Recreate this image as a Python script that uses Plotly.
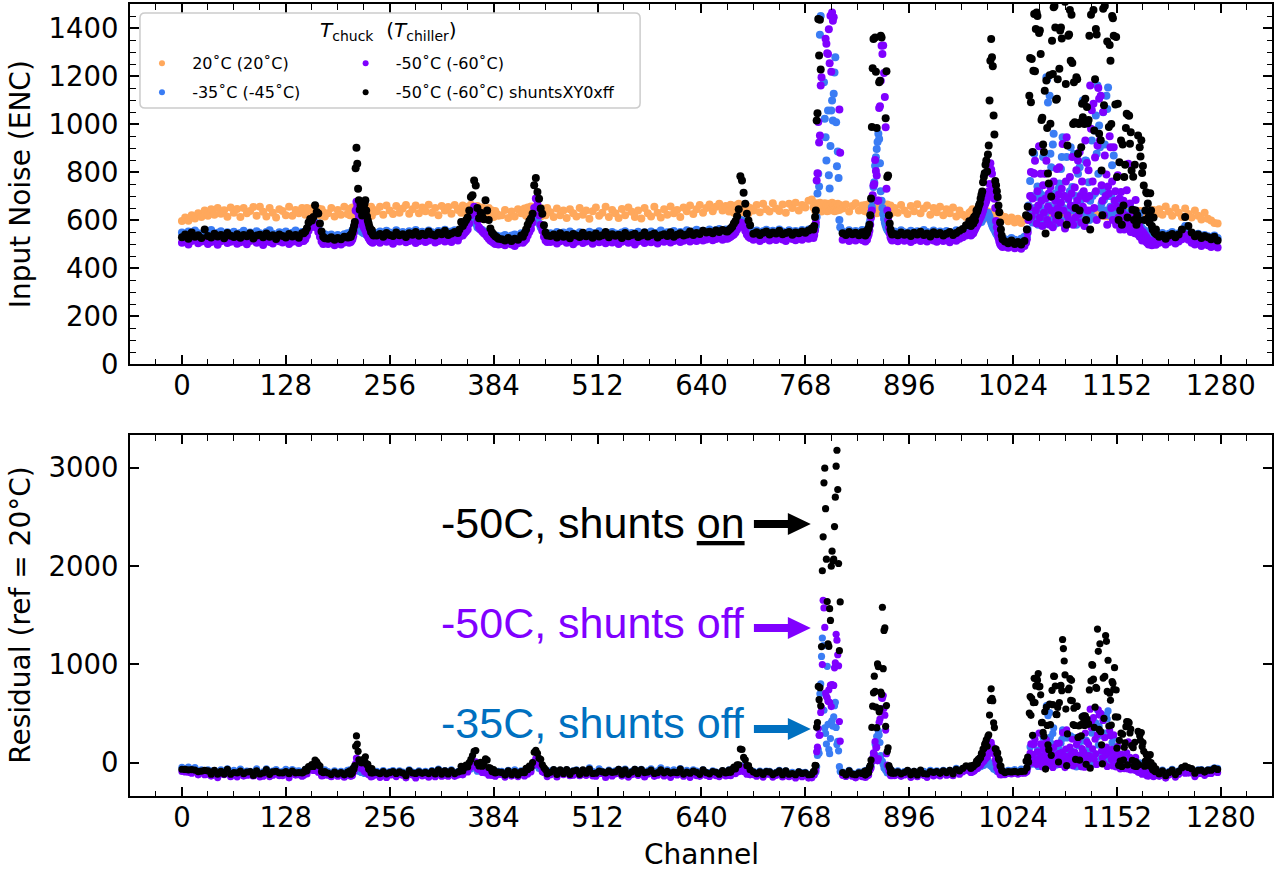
import plotly.graph_objects as go

# ------------------------------------------------------------------
# DATA  (input noise in ENC)
# each region: first channel, channel step, then one list per series
# series order: 20C ref, -35C, -50C, -50C shunts
# ------------------------------------------------------------------
r01_ref = [596, 610, 597, 620, 606, 628, 612, 640, 618, 645, 622, 650, 626, 641, 614, 652, 630, 646, 612, 650,
           628, 638, 654, 618, 655, 634, 615, 650, 630, 610, 645, 638, 620, 655, 618, 642, 628, 650]
r01_m35 = [548, 538, 552, 541, 556, 545, 537, 550, 543, 558, 540, 547, 553, 536, 549, 544, 551, 539, 546, 555,
           542, 548, 537, 553, 545, 540, 550, 557, 543, 538, 549, 546, 552, 541, 547, 556, 544, 550]
r01_m50 = [505, 515, 498, 512, 520, 503, 510, 517, 500, 508, 514, 497, 511, 519, 504, 509, 516, 501, 507, 513,
           499, 512, 518, 505, 510, 496, 514, 508, 502, 517, 511, 506, 513, 500, 509, 515, 504, 512]
r01_sh = [528, 540, 522, 548, 530, 536, 525, 560, 533, 527, 543, 531, 538, 524, 546, 534, 529, 541, 526, 537,
          532, 545, 523, 535, 539, 528, 544, 530, 536, 521, 540, 533, 527, 542, 531, 538, 526, 545]

r02_ref = [640, 622, 650, 630, 645, 618, 652, 635, 625, 648, 620, 645, 632, 615]
r02_m35 = [548, 552, 560, 572, 580, 576, 585, 590, 578, 565, 552, 540, 538, 541]
r02_m50 = [512, 520, 535, 555, 570, 578, 572, 585, 568, 550, 530, 510, 500, 503]
r02_sh = [545, 552, 566, 590, 604, 598, 612, 661, 633, 627, 585, 552, 530, 524]

r03_ref = [628, 650, 615, 642, 622, 655, 625]
r03_m35 = [535, 540, 530, 538, 533, 541, 545]
r03_m50 = [500, 507, 495, 503, 498, 506, 510]
r03_sh = [522, 528, 518, 525, 520, 530, 527]

r04_ref = [636, 620, 648, 628, 652, 618, 640, 622, 650, 630, 645, 616, 655, 626, 640, 652, 620, 642, 630, 658,
           624, 648, 636, 615, 650, 640, 626, 655, 618, 645, 632]
r04_m35 = [540, 545, 543, 550, 556, 562, 570, 585, 592, 588, 580, 571, 566, 560, 557, 552, 550, 548, 545, 548,
           543, 540, 546, 542, 538, 544, 541, 537, 543, 540, 546]
r04_m50 = [505, 510, 508, 515, 520, 532, 548, 575, 640, 676, 655, 630, 614, 600, 596, 590, 585, 578, 570, 565,
           557, 548, 540, 532, 525, 520, 514, 510, 508, 505, 510]
r04_sh = [528, 535, 530, 542, 548, 560, 575, 592, 816, 901, 834, 730, 682, 643, 662, 650, 619, 671, 655, 668,
          682, 640, 615, 598, 585, 572, 562, 550, 557, 541, 535]

r05_ref = [636, 655, 622, 660, 640, 625, 658, 630, 648, 662, 626, 645, 660, 628, 652, 636, 664, 630, 650, 620,
           658, 640, 654, 626, 662, 642]
r05_m35 = [546, 552, 540, 555, 548, 543, 557, 545, 550, 541, 553, 547, 558, 544, 551, 546, 556, 549, 542, 554,
           548, 559, 545, 552, 557, 550]
r05_m50 = [512, 505, 518, 509, 514, 501, 516, 510, 520, 507, 513, 518, 504, 511, 517, 508, 515, 521, 506, 513,
           519, 510, 516, 508, 522, 515]
r05_sh = [535, 542, 530, 546, 538, 533, 548, 536, 541, 529, 545, 539, 550, 534, 543, 537, 552, 540, 535, 547,
          541, 555, 538, 544, 550, 546]

r06_ref = [648, 630, 660, 638, 625, 655, 640, 664, 632, 650, 622, 658, 642, 628, 652, 620, 645, 615, 650, 622,
           640, 612, 638, 625, 618]
r06_m35 = [555, 560, 558, 565, 568, 575, 590, 598, 605, 600, 585, 570, 565, 560, 558, 552, 548, 545, 540, 537,
           532, 535, 530, 534, 528]
r06_m50 = [530, 538, 535, 545, 552, 560, 585, 620, 640, 655, 630, 595, 570, 560, 552, 545, 540, 530, 522, 515,
           510, 505, 500, 503, 498]
r06_sh = [560, 592, 575, 588, 599, 610, 640, 696, 703, 765, 744, 650, 607, 630, 615, 603, 682, 640, 600, 565,
          548, 540, 532, 528, 522]

r07_ref = [620, 642, 608, 635, 615, 645, 628]
r07_m35 = [532, 538, 528, 535, 540, 533, 545]
r07_m50 = [500, 495, 505, 498, 492, 503, 510]
r07_sh = [520, 515, 525, 512, 522, 518, 535]

r08_ref = [630, 648, 618, 652, 632, 656, 625, 640, 650, 622, 645, 615, 648, 630, 620, 650]
r08_m35 = [538, 545, 552, 560, 570, 580, 600, 615, 620, 605, 585, 570, 560, 550, 545, 540]
r08_m50 = [505, 512, 520, 535, 550, 562, 590, 650, 690, 665, 620, 580, 555, 530, 515, 508]
r08_sh = [530, 545, 560, 580, 596, 606, 626, 745, 775, 717, 689, 648, 626, 578, 548, 535]

r09_ref = [632, 612, 648, 620, 640, 608, 645, 628, 615, 650, 622, 640, 605, 636, 652, 618, 630, 655, 612, 642,
           628, 608, 646, 620, 652, 634, 612, 640, 606, 650, 628, 615, 655, 630, 610, 645, 622, 656, 628, 642,
           612, 652, 636, 660, 625, 645, 662, 630, 650, 665, 636, 655, 668, 640, 658]
r09_m35 = [545, 538, 550, 542, 548, 535, 552, 544, 540, 549, 543, 537, 551, 546, 539, 553, 541, 547, 536, 550,
           544, 540, 548, 553, 538, 546, 542, 551, 537, 549, 545, 552, 540, 547, 556, 543, 549, 541, 554, 546,
           550, 544, 557, 548, 552, 559, 546, 555, 550, 560, 553, 558, 562, 555, 560]
r09_m50 = [508, 515, 502, 511, 518, 505, 512, 499, 509, 516, 504, 510, 517, 501, 513, 507, 519, 503, 511, 506,
           514, 500, 509, 516, 505, 512, 498, 510, 517, 504, 511, 507, 515, 502, 513, 509, 518, 506, 512, 516,
           508, 514, 520, 510, 517, 512, 522, 515, 519, 524, 516, 521, 526, 518, 523]
r09_sh = [533, 540, 527, 545, 530, 537, 524, 542, 535, 529, 547, 532, 538, 526, 544, 531, 536, 550, 528, 541,
          534, 539, 525, 546, 532, 537, 543, 529, 535, 548, 531, 538, 544, 527, 536, 541, 533, 549, 530, 539,
          545, 535, 540, 552, 538, 546, 542, 555, 548, 551, 545, 556, 550, 558, 553]

r10_ref = [652, 635, 664, 642, 630, 660, 640, 668, 645, 632, 662, 640, 658, 628, 650]
r10_m35 = [556, 560, 563, 568, 572, 578, 585, 595, 600, 598, 590, 580, 570, 562, 558]
r10_m50 = [522, 526, 530, 535, 540, 548, 560, 575, 590, 585, 570, 555, 540, 530, 525]
r10_sh = [552, 558, 565, 572, 585, 596, 616, 645, 782, 765, 714, 668, 626, 598, 578]

r11_ref = [640, 662, 632, 668, 645, 635, 670, 648, 638, 665, 630, 668, 650, 672, 640, 662, 652, 680, 685]
r11_m35 = [550, 556, 545, 553, 559, 547, 555, 549, 560, 552, 546, 557, 551, 554, 548, 558, 553, 560, 565]
r11_m50 = [518, 524, 512, 520, 526, 515, 522, 517, 528, 519, 513, 525, 521, 516, 523, 518, 527, 522, 530]
r11_sh = [543, 549, 538, 547, 552, 540, 548, 544, 555, 541, 546, 550, 539, 548, 545, 552, 547, 556, 565]

r12_ref = [652, 665, 640, 670, 655, 638, 662, 645, 672, 650, 635, 668, 656, 642, 670, 648, 660, 636, 668, 654,
           640, 664, 648, 672, 645, 660, 636, 666, 650, 640, 668, 655, 642, 662]
r12_m35 = [550, 556, 562, 575, 612, 710, 793, 740, 1372, 1450, 1715, 1935, 1845, 1174, 1022, 945, 848, 1615,
           1056, 786, 731, 908, 1056, 1098, 1015, 1126, 1215, 1278, 1007, 824, 885, 775, 600, 570]
r12_m50 = [525, 538, 556, 590, 765, 795, 1008, 923, 952, 1160, 1195, 1665, 2307, 2215, 2045, 1355, 1334, 1295,
           1292, 1395, 1253, 1451, 1218, 1465, 1430, 1445, 1600, 1680, 1955, 1885, 1765, 1640, 1060, 880]
r12_sh = [560, 575, 612, 640, 1015, 1045, 1437, 1285, 1434, 1227, 1815, 2619, 2952, 3488, 3665, 3231, 2729,
          2274, 1875, 1835, 2205, 2110, 2645, 2822, 2695, 2729, 3037, 3366, 3665, 3817, 3445, 2680, 1780, 2296]

r13_ref = [648, 665, 635, 658, 670, 640, 660]
r13_m35 = [552, 545, 557, 549, 554, 546, 558]
r13_m50 = [518, 524, 512, 520, 515, 523, 517]
r13_sh = [545, 538, 550, 541, 547, 536, 549]

r14_ref = [650, 638, 662, 635, 655, 642, 666, 632, 650, 664, 630, 658, 645, 668, 636, 654, 628, 662, 640, 658,
           632, 650, 666, 638, 645, 660, 630, 655, 640, 665, 635, 652, 640, 660, 628, 648]
r14_m35 = [548, 553, 545, 556, 550, 560, 568, 585, 600, 630, 653, 681, 737, 757, 826, 861, 896, 925, 959, 938,
           836, 720, 680, 650, 625, 605, 590, 578, 568, 560, 555, 550, 556, 548, 552, 546]
r14_m50 = [515, 522, 510, 525, 518, 530, 540, 555, 580, 610, 640, 703, 745, 750, 850, 804, 785, 680, 681, 1067,
           1074, 1180, 1326, 1292, 1327, 1213, 1112, 986, 730, 640, 600, 570, 545, 528, 520, 515]
r14_sh = [540, 548, 535, 552, 545, 558, 566, 580, 620, 690, 988, 1232, 1354, 1547, 1360, 1218, 983, 1665, 1615,
          1174, 1180, 1368, 1360, 2218, 1600, 2004, 2000, 1024, 1220, 779, 785, 620, 585, 560, 548, 540]

r15_ref = [650, 630, 662, 640, 625, 658, 636, 666, 628, 648, 660, 622, 650, 632, 655, 620, 645, 628, 652, 615,
           640, 622, 612, 630]
r15_m35 = [552, 546, 557, 549, 543, 555, 548, 553, 545, 558, 550, 544, 556, 547, 552, 541, 554, 549, 545, 557,
           551, 560, 565, 575]
r15_m50 = [517, 511, 522, 514, 519, 508, 516, 523, 512, 518, 510, 521, 515, 509, 520, 513, 517, 507, 519, 514,
           522, 528, 535, 545]
r15_sh = [542, 536, 548, 539, 545, 533, 547, 540, 551, 537, 544, 531, 549, 541, 546, 535, 543, 550, 538, 546,
          555, 562, 578, 595]

r16_ref = [635, 620, 645, 626, 640, 618, 636, 624, 642, 615, 634, 622, 640, 612, 632, 620, 638, 610, 630, 618,
           636, 606, 628, 615, 632, 604, 625, 612, 630, 600, 622, 608, 628, 598, 620, 606, 624, 596, 616, 604]
r16_m35 = [565, 570, 568, 575, 572, 580, 578, 585, 582, 590, 588, 595, 598, 592, 600, 605, 610, 615, 622, 618,
           625, 630, 620, 612, 600, 590, 580, 572, 565, 560, 552, 545, 540, 535, 530, 527, 524, 520, 518, 522]
r16_m50 = [535, 540, 548, 545, 555, 560, 568, 575, 582, 590, 598, 605, 612, 620, 630, 640, 652, 664, 670, 680,
           690, 700, 720, 750, 836, 810, 793, 710, 735, 689, 650, 596, 570, 545, 525, 510, 500, 495, 492, 488]
r16_sh = [575, 590, 602, 585, 612, 598, 620, 640, 635, 648, 660, 669, 690, 705, 719, 757, 780, 795, 830, 848,
          802, 873, 910, 1098, 1264, 1354, 1278, 1241, 1035, 956, 762, 745, 720, 696, 660, 632, 590, 560, 535, 520]

r17_ref = [612, 595, 610, 590, 605, 588, 600]
r17_m35 = [520, 515, 525, 518, 512, 522, 530]
r17_m50 = [490, 484, 495, 482, 488, 480, 492]
r17_sh = [510, 503, 515, 500, 508, 498, 512]

r18_ref = [604, 612, 600, 608, 615, 603, 610, 618, 606, 613, 601, 609, 616, 605, 612, 620, 608, 615, 603, 611,
           618, 607, 614, 622, 610, 617, 605, 613, 621, 609, 616, 624, 612, 619, 607, 615, 623, 611, 618, 626,
           614, 621, 609, 617, 625, 613, 620, 628, 616, 623, 611, 619, 627, 615, 622, 630, 618, 625, 613, 621,
           629, 617, 624, 612, 620, 628, 616, 623, 631, 619, 626, 614, 622, 630, 618, 625, 613, 621, 629, 617,
           624, 632, 620, 627, 615, 623, 631, 619, 626, 614, 622, 630, 618, 625, 633, 621, 628, 616, 624, 632,
           620, 627, 615, 623, 631, 619, 626, 634, 622, 629, 617, 625, 633, 621, 628, 616, 624, 632, 620, 627,
           635, 623, 630, 618, 626, 634, 622, 629, 617, 625, 633, 621, 628, 636, 624, 631, 619, 627, 635, 623,
           630, 638, 626, 633, 621, 629, 637, 625, 632, 640, 628, 635, 623, 631, 639, 627, 634, 642, 630, 637,
           625, 633]
r18_m35 = [520, 532, 560, 660, 610, 762, 640, 700, 590, 881, 876, 650, 696, 615, 740, 580, 724, 660, 600, 705,
           640, 862, 580, 690, 625, 1195, 1186, 1090, 660, 1118, 876, 820, 600, 915, 959, 650, 710, 585, 680, 620,
           730, 752, 600, 813, 862, 945, 650, 700, 575, 640, 862, 610, 685, 590, 720, 903, 640, 738, 600, 876,
           660, 700, 580, 640, 793, 615, 820, 680, 590, 710, 1098, 640, 700, 848, 847, 620, 690, 757, 600, 680,
           640, 931, 700, 610, 973, 711, 1035, 876, 1160, 793, 994, 903, 650, 669, 720, 1049, 683, 915, 640, 1118,
           1063, 1152, 700, 620, 655, 700, 828, 640, 869, 610, 680, 590, 640, 600, 660, 585, 620, 683, 600, 640,
           580, 610, 595, 630, 575, 600, 620, 585, 662, 570, 600, 580, 610, 641, 565, 590, 560, 600, 575, 560,
           627, 555, 570, 548, 560, 545, 556, 540, 552, 545, 538, 550, 542, 548, 536, 545, 540, 550, 538, 546,
           535, 543]
r18_m50 = [505, 520, 548, 600, 652, 700, 800, 615, 690, 796, 793, 847, 640, 585, 720, 660, 907, 610, 793, 680,
           575, 745, 630, 793, 690, 847, 600, 655, 710, 580, 738, 640, 695, 570, 760, 625, 680, 600, 813, 650,
           705, 820, 590, 672, 730, 917, 640, 700, 565, 760, 945, 620, 690, 600, 779, 660, 710, 862, 580, 650,
           735, 610, 807, 680, 848, 625, 883, 700, 590, 760, 655, 720, 575, 931, 690, 837, 640, 807, 700, 1160,
           980, 1057, 760, 1084, 650, 860, 720, 600, 910, 1150, 1105, 932, 1118, 745, 680, 1050, 620, 869, 700, 790,
           580, 740, 710, 949, 903, 650, 760, 600, 903, 680, 720, 580, 655, 786, 610, 690, 560, 717, 640, 600,
           680, 560, 620, 590, 724, 570, 834, 600, 669, 550, 620, 580, 560, 640, 545, 683, 560, 600, 540, 580,
           530, 560, 538, 515, 550, 525, 540, 512, 530, 505, 520, 498, 515, 505, 510, 495, 508, 500, 512, 503,
           497, 506]
r18_sh = [620, 560, 655, 612, 1118, 1275, 1091, 1271, 883, 1222, 1458, 1220, 1396, 1465, 1450, 1526, 1379, 1390,
          1292, 1017, 1026, 915, 883, 1139, 544, 1181, 983, 794, 752, 1203, 1001, 698, 1347, 1208, 1486, 1492,
          1402, 1101, 1105, 1186, 620, 1230, 1390, 1402, 1356, 1865, 1780, 1661, 1509, 1167, 580, 910, 1368, 1373,
          1475, 1264, 1455, 1254, 1000, 1174, 1007, 650, 1195, 1186, 876, 1000, 640, 1007, 903, 1084, 1028, 1090,
          1000, 1105, 600, 1071, 1003, 1017, 1368, 560, 1455, 1628, 1611, 1475, 973, 1186, 1396, 1373, 1984, 1746,
          959, 1838, 932, 806, 620, 1480, 1078, 1492, 1916, 1865, 1344, 1668, 987, 1329, 1264, 1000, 1450, 1441,
          1368, 1594, 1081, 1363, 779, 1084, 600, 841, 640, 931, 580, 915, 660, 779, 830, 983, 1043, 610, 1036,
          1034, 918, 966, 806, 643, 780, 600, 830, 640, 580, 620, 952, 600, 903, 865, 932, 796, 825, 744, 600, 640,
          716, 711, 669, 612, 590, 711, 640, 575, 560, 610, 550, 545, 560, 540]

r19_ref = [645, 622, 656, 635, 618, 650, 630, 612, 648, 625, 610, 640, 618, 602, 630, 605, 598, 588, 585]
r19_m35 = [540, 546, 535, 543, 550, 538, 545, 558, 575, 552, 540, 535, 543, 530, 538, 532, 528, 535, 525]
r19_m50 = [505, 512, 498, 508, 515, 502, 510, 520, 540, 518, 505, 498, 506, 492, 500, 495, 488, 496, 485]
r19_sh = [530, 538, 522, 535, 542, 528, 540, 560, 612, 575, 548, 532, 540, 525, 533, 528, 520, 530, 515]

REGIONS = [
    (0, 4, r01_ref, r01_m35, r01_m50, r01_sh),
    (150, 2, r02_ref, r02_m35, r02_m50, r02_sh),
    (180, 4, r03_ref, r03_m35, r03_m50, r03_sh),
    (206, 1, r04_ref, r04_m35, r04_m50, r04_sh),
    (240, 4, r05_ref, r05_m35, r05_m50, r05_sh),
    (342, 2, r06_ref, r06_m35, r06_m50, r06_sh),
    (394, 4, r07_ref, r07_m35, r07_m50, r07_sh),
    (420, 2, r08_ref, r08_m35, r08_m50, r08_sh),
    (454, 4, r09_ref, r09_m35, r09_m50, r09_sh),
    (672, 2, r10_ref, r10_m35, r10_m50, r10_sh),
    (704, 4, r11_ref, r11_m35, r11_m50, r11_sh),
    (778, 1, r12_ref, r12_m35, r12_m50, r12_sh),
    (814, 4, r13_ref, r13_m35, r13_m50, r13_sh),
    (840, 1, r14_ref, r14_m35, r14_m50, r14_sh),
    (878, 4, r15_ref, r15_m35, r15_m50, r15_sh),
    (972, 1, r16_ref, r16_m35, r16_m50, r16_sh),
    (1014, 4, r17_ref, r17_m35, r17_m50, r17_sh),
    (1040, 1, r18_ref, r18_m35, r18_m50, r18_sh),
    (1204, 4, r19_ref, r19_m35, r19_m50, r19_sh),
]

SERIES_NAMES = ["20˚C (20˚C)", "-35˚C (-45˚C)", "-50˚C (-60˚C)", "-50˚C (-60˚C) shuntsXY0xff"]
SERIES_COLORS = ["#FFA85C", "#3A7CF4", "#7F00FF", "#000000"]
X_TICKS = [0, 128, 256, 384, 512, 640, 768, 896, 1024, 1152, 1280]

# ------------------------------------------------------------------
xs = [[] for _ in range(4)]
ys = [[] for _ in range(4)]
for start, step, *vals in REGIONS:
    for k in range(4):
        for i, v in enumerate(vals[k]):
            xs[k].append(start + step * i)
            ys[k].append(v)

ref_map = dict(zip(xs[0], ys[0]))

# figure geometry (pixels)
W, H = 1276, 874
ML, MR, MT, MB = 130, 2, 4, 78


def px(x):
    return (x - ML) / (W - ML - MR)


def py(y):
    return (H - MB - y) / (H - MT - MB)


fig = go.Figure()

for k in range(4):
    fig.add_trace(go.Scatter(x=xs[k], y=ys[k], mode="markers", xaxis="x", yaxis="y",
                             marker=dict(size=8, color=SERIES_COLORS[k], line=dict(width=0)),
                             showlegend=False, hoverinfo="skip"))
for k in range(1, 4):
    rx = [x for x in xs[k] if x in ref_map]
    ry = [y - ref_map[x] for x, y in zip(xs[k], ys[k]) if x in ref_map]
    fig.add_trace(go.Scatter(x=rx, y=ry, mode="markers", xaxis="x2", yaxis="y2",
                             marker=dict(size=7.2, color=SERIES_COLORS[k], line=dict(width=0)),
                             showlegend=False, hoverinfo="skip"))

# legend entries (one small legend per entry to mimic the 2-column layout)
legend_ids = ["legend", "legend2", "legend3", "legend4"]
PAD = "\u00a0\u00a0"
for k in range(4):
    fig.add_trace(go.Scatter(x=[None], y=[None], mode="markers", xaxis="x", yaxis="y",
                             marker=dict(size=6, color=SERIES_COLORS[k]),
                             name=PAD + SERIES_NAMES[k], legend=legend_ids[k], showlegend=True))

tickfont = dict(family="DejaVu Sans", size=27.5, color="black")
common = dict(showline=True, linecolor="black", linewidth=2, mirror="allticks", ticks="inside",
              ticklen=9, tickwidth=1.5, tickcolor="black", showgrid=False, zeroline=False,
              tickfont=tickfont)
xcommon = dict(common, range=[-64, 1343], tickmode="array", tickvals=X_TICKS,
               ticklabelstandoff=-4,
               minor=dict(tickmode="linear", tick0=0, dtick=32, ticks="inside", ticklen=5.5,
                          tickwidth=1.2, tickcolor="black", showgrid=False))

leg_common = dict(bgcolor="rgba(0,0,0,0)", borderwidth=0, xanchor="left", yanchor="middle",
                  font=dict(family="DejaVu Sans", size=16, color="black"))

fig.update_layout(
    width=W, height=H, margin=dict(l=ML, r=MR, t=MT, b=MB),
    paper_bgcolor="white", plot_bgcolor="white",
    xaxis=dict(xcommon, anchor="y", domain=[0, 1]),
    yaxis=dict(common, anchor="x", domain=[py(364), 1], range=[0, 1500], tickmode="linear",
               tick0=0, dtick=200, ticklabelstandoff=4,
               minor=dict(tickmode="linear", tick0=0, dtick=50, ticks="inside", ticklen=5.5,
                          tickwidth=1.2, tickcolor="black", showgrid=False)),
    xaxis2=dict(xcommon, anchor="y2", domain=[0, 1]),
    yaxis2=dict(common, anchor="x2", domain=[0, py(435)], range=[-340, 3332], tickmode="linear",
                tick0=0, dtick=1000, ticklabelstandoff=4),
    legend=dict(leg_common, x=px(142), y=py(63.3)),
    legend2=dict(leg_common, x=px(142), y=py(92.3)),
    legend3=dict(leg_common, x=px(346), y=py(63.3)),
    legend4=dict(leg_common, x=px(346), y=py(92.3)),
)


def rounded_rect(x0, y0, x1, y1, r):
    pts = [
        f"M{px(x0 + r)},{py(y0)}", f"L{px(x1 - r)},{py(y0)}", f"Q{px(x1)},{py(y0)} {px(x1)},{py(y0 + r)}",
        f"L{px(x1)},{py(y1 - r)}", f"Q{px(x1)},{py(y1)} {px(x1 - r)},{py(y1)}",
        f"L{px(x0 + r)},{py(y1)}", f"Q{px(x0)},{py(y1)} {px(x0)},{py(y1 - r)}",
        f"L{px(x0)},{py(y0 + r)}", f"Q{px(x0)},{py(y0)} {px(x0 + r)},{py(y0)}", "Z"]
    return " ".join(pts)


def arrow_path(x0, xtip, yc):
    xs_ = [x0, 789, 789, xtip, 789, 789, x0]
    ys_ = [yc - 4, yc - 4, yc - 11, yc, yc + 11, yc + 4, yc + 4]
    parts = [("M" if i == 0 else "L") + f"{px(a)},{py(b)}" for i, (a, b) in enumerate(zip(xs_, ys_))]
    return " ".join(parts) + " Z"


shapes = [dict(type="path", xref="paper", yref="paper", path=rounded_rect(140, 13, 641, 108, 5),
               fillcolor="rgba(255,255,255,0.8)", line=dict(color="#cccccc", width=1.5), layer="above")]
ann_colors = ["#000000", "#8000FF", "#0070C0"]
arrow_y = [524, 628, 729]
for c, yc in zip(ann_colors, arrow_y):
    shapes.append(dict(type="path", xref="paper", yref="paper", path=arrow_path(755, 812, yc),
                       fillcolor=c, line=dict(width=0), layer="above"))
fig.update_layout(shapes=shapes)

annotations = [
    dict(text="Input Noise (ENC)", x=px(20), y=py(184), textangle=-90),
    dict(text="Residual (ref = 20°C)", x=px(20), y=py(615.5), textangle=-90),
    dict(text="Channel", x=px(703), y=py(855)),
]
for a in annotations:
    a.update(xref="paper", yref="paper", showarrow=False, xanchor="center", yanchor="middle",
             font=dict(family="DejaVu Sans", size=28, color="black"))

texts = ["-50C, shunts <u>on</u>", "-50C, shunts off", "-35C, shunts off"]
for t, c, yc in zip(texts, ann_colors, [522.5, 622.5, 722.5]):
    annotations.append(dict(text=t, x=px(748), y=py(yc), xref="paper", yref="paper", showarrow=False,
                            xanchor="right", yanchor="middle",
                            font=dict(family="Liberation Sans", size=43, color=c)))

annotations.append(dict(text="<i>T</i><sub>chuck</sub>\u00a0\u00a0(<i>T</i><sub>chiller</sub>)",
                        x=px(389), y=py(31), xref="paper", yref="paper", showarrow=False,
                        xanchor="center", yanchor="middle",
                        font=dict(family="DejaVu Sans", size=20, color="black")))
fig.update_layout(annotations=annotations)

fig.write_html("out.html", config={"displayModeBar": False},
               post_script="document.body.style.margin='0';document.body.style.overflow='hidden';")
